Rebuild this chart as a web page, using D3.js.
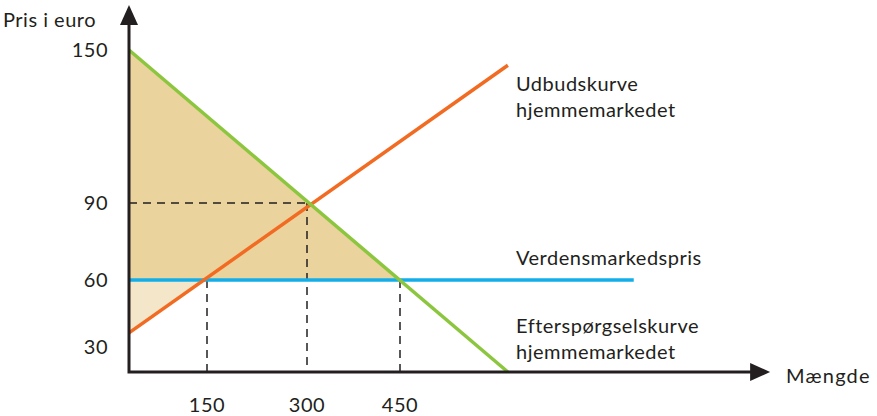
<!DOCTYPE html>
<html>
<head>
<meta charset="utf-8">
<script src="https://cdn.jsdelivr.net/npm/d3@7"></script>
<style>
  body { margin: 0; background: #fff; }
  text { font-family: Lato, "Open Sans", sans-serif; font-size: 20px; letter-spacing: 0.5px; fill: #231f20; }
</style>
</head>
<body>
<svg id="chart" width="877" height="416"></svg>
<script>
// tick values
var priceTicks = [30, 60, 90, 150];
var qtyTicks = [150, 300, 450];

// curves (quantity, price), schematic end points
var supply = [[33, 36.3], [624, 144]];
var demand = [[33, 150], [624, 18.8]];
var worldPrice = 60;
var worldPriceEnd = 827;
var equilibrium = [300, 90];
var importFrom = 150, importTo = 450;

var axisMin = { q: 33, p: 18.8 };
var axisMax = { q: 1047, p: 167.6 };

var labels = {
  yTitle: 'Pris i euro',
  xTitle: 'Mængde',
  supply: ['Udbudskurve', 'hjemmemarkedet'],
  world: ['Verdensmarkedspris'],
  demand: ['Efterspørgselskurve', 'hjemmemarkedet']
};

var svg = d3.select('#chart');

// the drawing is schematic, so the scales are piecewise
var x = d3.scaleLinear().domain([150, 300, 450]).range([207, 307, 400]);
var y = d3.scaleLinear().domain([30, 60, 90, 150]).range([347, 280, 203, 50]);

var line = d3.line().x(function(d){ return x(d[0]); }).y(function(d){ return y(d[1]); });

// consumer surplus area (dark) and producer area (light)
svg.append('path')
  .attr('d', line([[axisMin.q, demand[0][1]], [importTo, worldPrice], [axisMin.q, worldPrice]]) + 'Z')
  .attr('fill', '#ead39d');

svg.append('path')
  .attr('d', line([[axisMin.q, worldPrice], [importFrom, worldPrice], supply[0]]) + 'Z')
  .attr('fill', '#f4e6c9');

// dashed guides
var dash = svg.append('g')
  .attr('stroke', '#231f20')
  .attr('stroke-width', 1.5)
  .attr('stroke-dasharray', '8,6');

dash.append('path').attr('d', line([[axisMin.q, equilibrium[1]], equilibrium]));
[[equilibrium[0], equilibrium[1]], [importFrom, worldPrice], [importTo, worldPrice]].forEach(function(pt){
  dash.append('path').attr('d', line([pt, [pt[0], axisMin.p]]));
});

// world price line
svg.append('path')
  .attr('d', line([[axisMin.q, worldPrice], [worldPriceEnd, worldPrice]]))
  .attr('stroke', '#13aeea').attr('stroke-width', 3.5).attr('fill', 'none');

svg.append('path')
  .attr('d', line(supply))
  .attr('stroke', '#f26b22').attr('stroke-width', 3.5).attr('fill', 'none');

svg.append('path')
  .attr('d', line(demand))
  .attr('stroke', '#8cc63f').attr('stroke-width', 3.5).attr('fill', 'none');

// axes with arrow heads
var x0 = x(axisMin.q), y0 = y(axisMin.p);
var xEnd = x(axisMax.q), yEnd = y(axisMax.p);

svg.append('path')
  .attr('d', 'M' + x0 + ',' + (yEnd + 18) + 'V' + y0 + 'H' + (xEnd - 18))
  .attr('stroke', '#231f20').attr('stroke-width', 3).attr('fill', 'none');

svg.append('path')
  .attr('d', 'M' + (x0 - 9) + ',' + (yEnd + 20) + 'L' + x0 + ',' + yEnd + 'L' + (x0 + 9) + ',' + (yEnd + 20) + 'Z')
  .attr('fill', '#231f20');
svg.append('path')
  .attr('d', 'M' + (xEnd - 20) + ',' + (y0 - 9) + 'L' + xEnd + ',' + y0 + 'L' + (xEnd - 20) + ',' + (y0 + 9) + 'Z')
  .attr('fill', '#231f20');

// tick labels
svg.selectAll('text.ytick')
  .data(priceTicks)
  .enter().append('text')
  .attr('class', 'ytick')
  .attr('x', 108)
  .attr('y', function(d){ return y(d); })
  .attr('dy', '0.35em')
  .attr('text-anchor', 'end')
  .text(function(d){ return d; });

svg.selectAll('text.xtick')
  .data(qtyTicks)
  .enter().append('text')
  .attr('class', 'xtick')
  .attr('x', function(d){ return x(d); })
  .attr('y', 412)
  .attr('text-anchor', 'middle')
  .text(function(d){ return d; });

// titles
svg.append('text').attr('x', 3).attr('y', 27).text(labels.yTitle);
svg.append('text').attr('x', 786).attr('y', 383).style('letter-spacing', '1.2px').text(labels.xTitle);

function block(lines, x0, yBase){
  var t = svg.append('text').attr('x', x0).attr('y', yBase);
  lines.forEach(function(s, i){
    t.append('tspan').attr('x', x0).attr('dy', i === 0 ? 0 : 26).text(s);
  });
}
block(labels.supply, 516, 91);
block(labels.world, 516, 265);
block(labels.demand, 516, 333);
</script>
</body>
</html>
